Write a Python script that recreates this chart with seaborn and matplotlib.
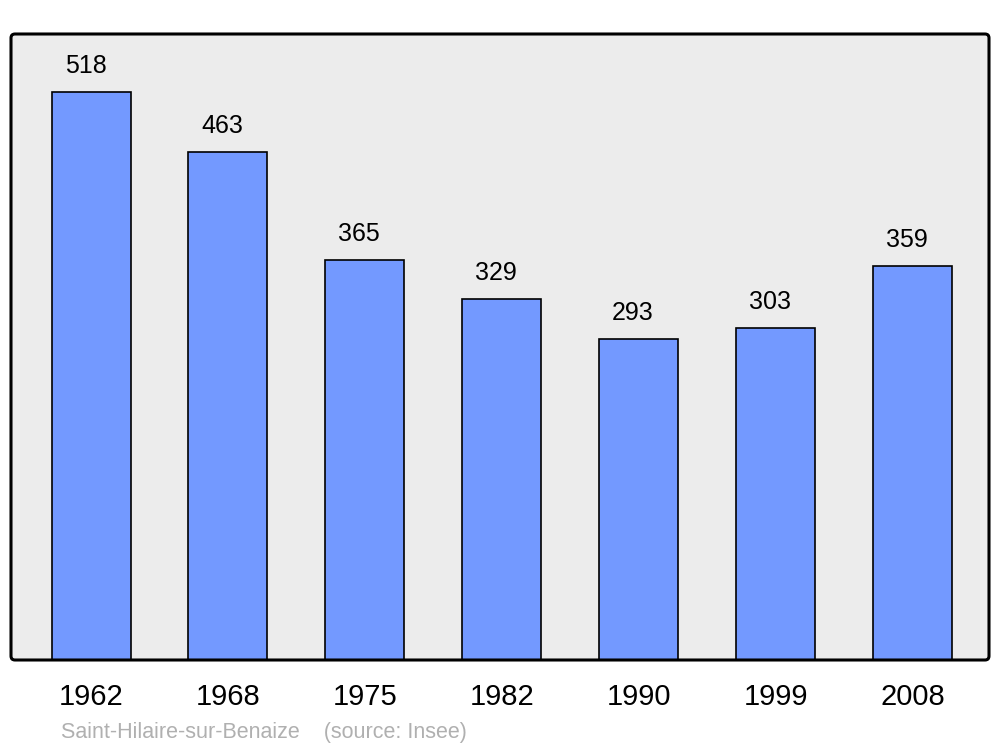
import matplotlib
matplotlib.use("Agg")
import matplotlib.pyplot as plt
from matplotlib.patches import FancyBboxPatch
import seaborn as sns
import pandas as pd

# Données : population par recensement
annees = ["1962", "1968", "1975", "1982", "1990", "1999", "2008"]
population = [518, 463, 365, 329, 293, 303, 359]
commune = "Saint-Hilaire-sur-Benaize"
source = "(source: Insee)"

sns.set_theme(style="white")
plt.rcParams['font.family'] = ['Liberation Sans', 'DejaVu Sans']

df = pd.DataFrame({"annee": annees, "population": population})

fig = plt.figure(figsize=(10, 7.47), dpi=100)
ax = fig.add_axes([0.011, 0.1165, 0.978, 0.838])
ax.set_facecolor("#ececec")

sns.barplot(data=df, x="annee", y="population", color="#7399ff", saturation=1,
            edgecolor="black", linewidth=1.2, width=0.577, ax=ax)

ax.set_xlim(-0.585, 6.559)
ax.set_ylim(0, 571)
ax.set_xlabel("")
ax.set_ylabel("")
ax.set_yticks([])
ax.tick_params(axis="x", length=0, pad=16.5, labelsize=21, labelcolor="black")

# Valeurs au-dessus des barres
for i, v in enumerate(population):
    ax.annotate(str(v), xy=(i, v), xytext=(-4, 13.7), textcoords="offset points",
                ha="center", va="baseline", fontsize=18, color="black")

# Cadre aux coins arrondis
for s in ax.spines.values():
    s.set_visible(False)
x0, y0 = 11, 747 - 660
cadre = FancyBboxPatch((x0, y0), 978, 626, boxstyle="round,pad=0,rounding_size=4",
                       transform=None, facecolor="none", edgecolor="black",
                       linewidth=2.2, zorder=10)
fig.patches.append(cadre)

fig.text(0.061, (747 - 738) / 747, commune + "    " + source, fontsize=15.5,
         color="#b0b0b0", ha="left", va="baseline")

plt.savefig("out.png", dpi=100)
plt.close()
